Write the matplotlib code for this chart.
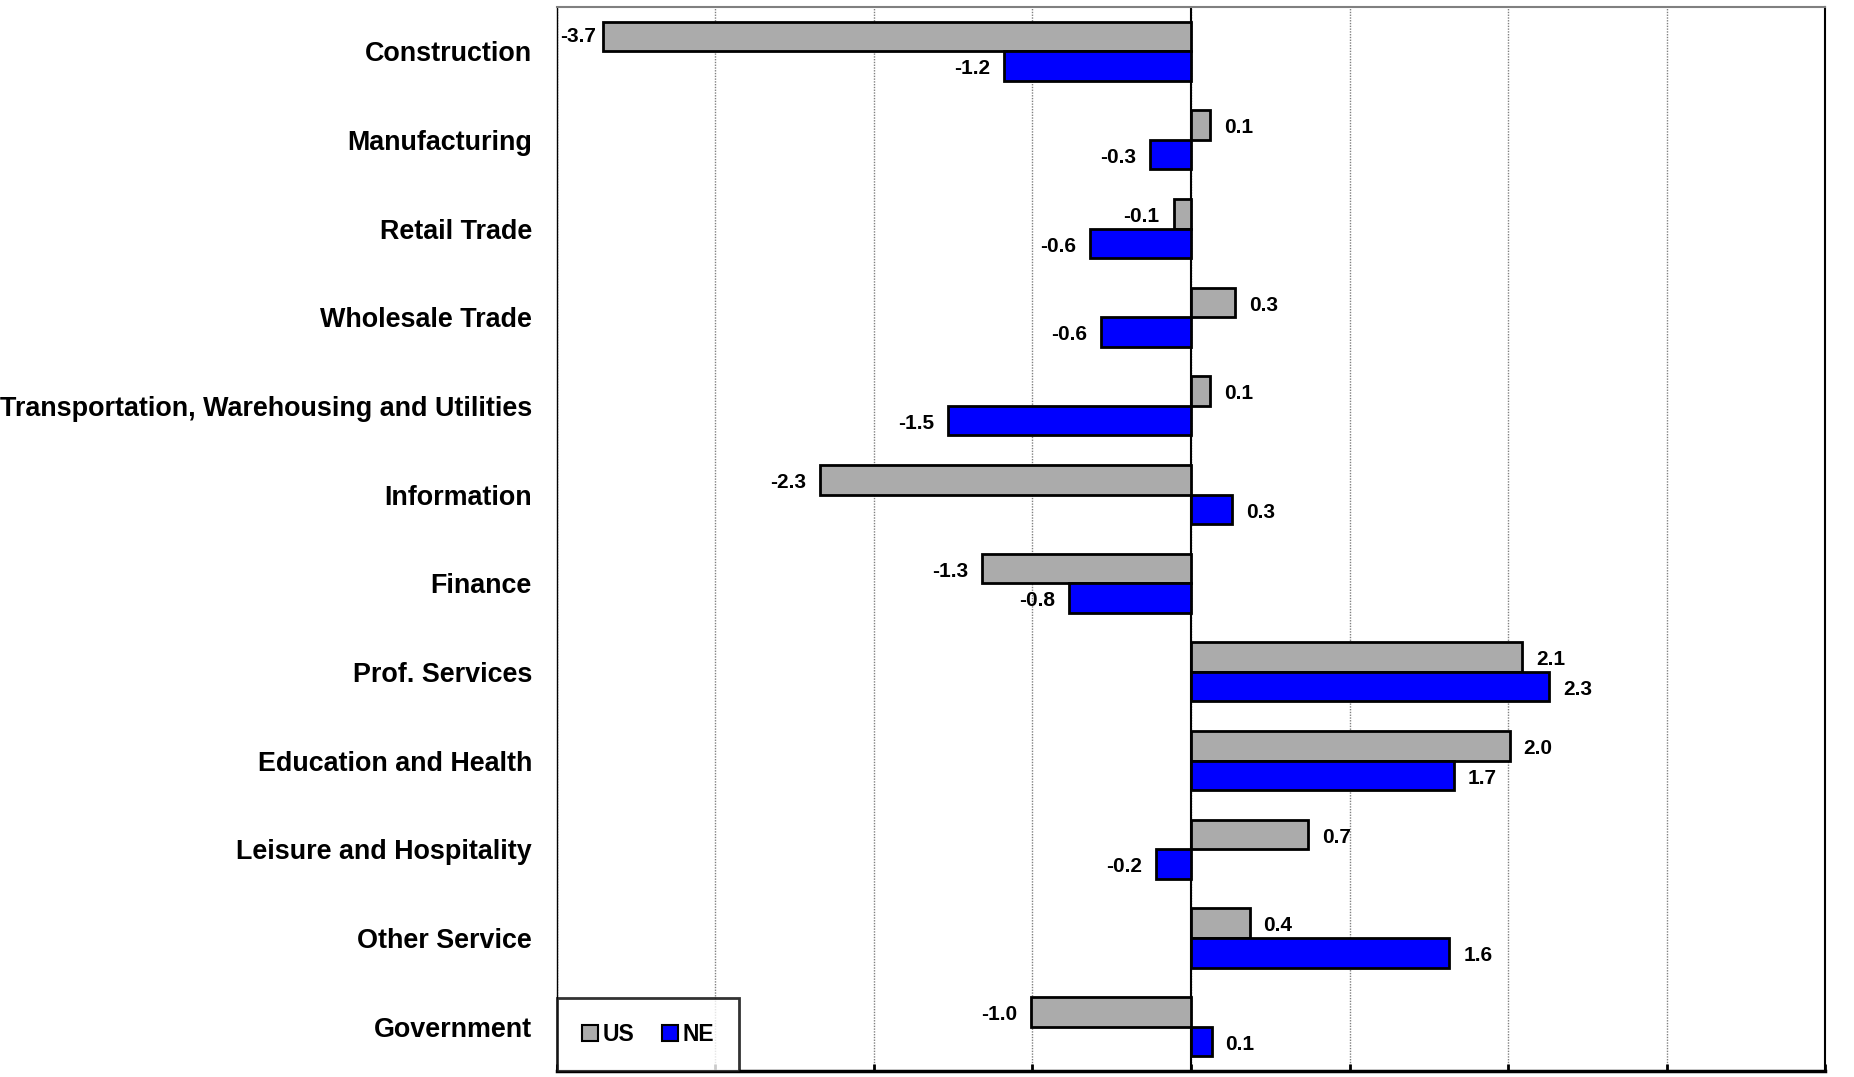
import matplotlib.pyplot as plt
import numpy as np

plt.rcParams['font.family'] = ['Liberation Sans', 'DejaVu Sans']
plt.rcParams['font.weight'] = 'bold'

categories = ['Construction', 'Manufacturing', 'Retail Trade', 'Wholesale Trade',
              'Transportation, Warehousing and Utilities', 'Information', 'Finance',
              'Prof. Services', 'Education and Health', 'Leisure and Hospitality',
              'Other Service', 'Government']
us_vals = [-3.71, 0.12, -0.11, 0.28, 0.12, -2.34, -1.32, 2.09, 2.01, 0.74, 0.37, -1.01]
ne_vals = [-1.18, -0.26, -0.64, -0.57, -1.53, 0.26, -0.77, 2.26, 1.66, -0.22, 1.63, 0.13]
us_labels = ['-3.7', '0.1', '-0.1', '0.3', '0.1', '-2.3', '-1.3', '2.1', '2.0', '0.7', '0.4', '-1.0']
ne_labels = ['-1.2', '-0.3', '-0.6', '-0.6', '-1.5', '0.3', '-0.8', '2.3', '1.7', '-0.2', '1.6', '0.1']

fig = plt.figure(figsize=(18.54, 10.77), dpi=100)
ax = fig.add_axes([0.3004, 0.0056, 0.684, 0.988])

y = np.arange(len(categories))
h = 1 / 3
ax.barh(y - h/2, us_vals, height=h, color='#ABABAB', edgecolor='black', linewidth=2, label='US', zorder=3)
ax.barh(y + h/2, ne_vals, height=h, color='#0000FF', edgecolor='black', linewidth=2, label='NE', zorder=3)

xmin, xmax = -4, 4
ax.set_xlim(xmin, xmax)
ax.set_ylim(len(categories) - 0.5, -0.5)

for vals, labels, off in [(us_vals, us_labels, -h/2), (ne_vals, ne_labels, h/2)]:
    for i, (v, t) in enumerate(zip(vals, labels)):
        if v >= 0:
            ax.annotate(t, (v, i + off), xytext=(10, -2), textcoords='offset points',
                        ha='left', va='center', fontsize=15, fontweight='bold')
        elif v < xmin + 0.45:
            ax.annotate(t, (xmin, i + off), xytext=(2, 0), textcoords='offset points',
                        ha='left', va='center', fontsize=15, fontweight='bold')
        else:
            ax.annotate(t, (v, i + off), xytext=(-10, -2), textcoords='offset points',
                        ha='right', va='center', fontsize=15, fontweight='bold')

ax.set_yticks(y)
ax.set_yticklabels(categories, fontsize=19.4, fontweight='bold')
ax.tick_params(axis='y', length=0, pad=18)
ax.set_xticks(np.arange(xmin, xmax + 1, 1))
ax.tick_params(axis='x', direction='in', length=5, width=2, labelbottom=False)
ax.grid(axis='x', linestyle=(0, (1, 1)), color='#808080', linewidth=1, zorder=0)
ax.axvline(0, color='black', linewidth=1.5, zorder=2)

ax.spines['top'].set_color('#808080')
ax.spines['top'].set_linewidth(1.5)
ax.spines['left'].set_linewidth(1)
ax.spines['right'].set_linewidth(1.5)
ax.spines['bottom'].set_linewidth(2.5)

leg = ax.legend(loc='lower left', ncol=2, fontsize=16.5, frameon=True, fancybox=False,
                handlelength=0.7, handleheight=0.7, handletextpad=0.2, columnspacing=1.2,
                borderpad=1.1, borderaxespad=0)
leg.get_frame().set_edgecolor('black')
leg.get_frame().set_linewidth(2)
for p in leg.get_patches():
    p.set_linewidth(1.5)

fig.savefig('out.png', dpi=100)
